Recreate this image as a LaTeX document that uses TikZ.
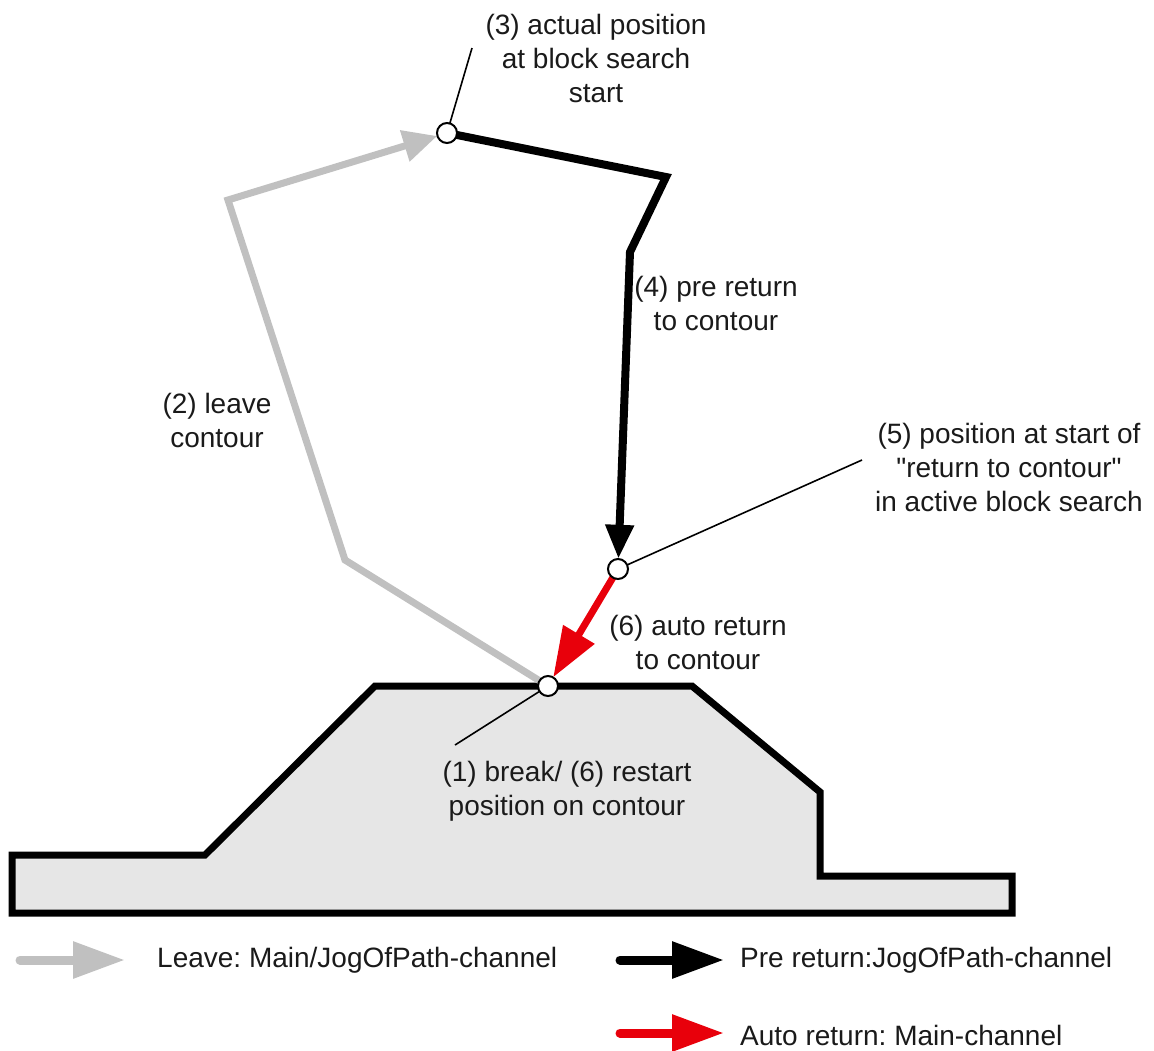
\documentclass[tikz,border=0pt]{standalone}
\usepackage{fontspec}
\setmainfont{Liberation Sans}
\usetikzlibrary{arrows.meta}
\definecolor{lgray}{HTML}{C0C0C0}
\definecolor{fillg}{HTML}{E6E6E6}
\definecolor{ared}{HTML}{E8000B}
\definecolor{txt}{HTML}{1A1A1A}
\newcommand{\sq}{\XeTeXglyph\XeTeXcharglyph"22\relax}
\tikzset{
  lbl/.style={align=center,font=\fontsize{28}{34}\selectfont,text=txt,inner sep=0pt},
  legtxt/.style={anchor=west,font=\fontsize{28}{34}\selectfont,text=txt,inner sep=0pt},
  ptmark/.style={circle,minimum size=20pt,inner sep=0pt},
  ptdraw/.style={circle,minimum size=20pt,inner sep=0pt,draw=black,line width=2pt,fill=white},
  leader/.style={draw=black,line width=1.6pt},
  grayarrow/.style={draw=lgray,line width=7pt,line join=miter,-{Triangle[length=34pt,width=31pt]}},
  blackarrow/.style={draw=black,line width=8pt,line join=miter,-{Triangle[length=34pt,width=27pt]}},
  redarrow/.style={draw=ared,line width=7pt,-{Triangle[length=50pt,width=35pt]}},
  contour/.style={draw=black,line width=7pt,fill=fillg,line join=miter},
  legarrow/.style={line width=9pt,line cap=round,-{Triangle[length=52pt,width=35pt]}},
}
\begin{document}
\frenchspacing
\begin{tikzpicture}[x=1pt,y=-1pt]
\useasboundingbox (0,0) rectangle (1154,1050);
% contour
\draw[contour] (12,855) -- (205,855) -- (375,686) -- (692,686) -- (820,792) -- (820,876) -- (1012,876) -- (1012,913) -- (12,913) -- cycle;
% points
\node[ptmark] (p3) at (447,133) {};
\node[ptmark] (p5) at (618,569) {};
\node[ptmark] (p1) at (548,686) {};
% paths
\draw[grayarrow] (p1.center) -- (345,560) -- (228,200) -- (p3);
\draw[blackarrow] (p3.center) -- (666,177) -- (630,252) -- (p5);
\draw[redarrow] (p5.center) -- (p1);
% leaders
\coordinate (l3) at (472,48);
\coordinate (l5) at (862,460);
\coordinate (l1) at (455,745);
\draw[leader] (p3) -- (l3);
\draw[leader] (p5) -- (l5);
\draw[leader] (p1) -- (l1);
% point circles
\node[ptdraw] at (p3) {};
\node[ptdraw] at (p5) {};
\node[ptdraw] at (p1) {};
% labels
\node[lbl] (t3) at (596,58) {(3) actual position\\at block search\\start};
\node[lbl] (t4) at (716,303) {(4) pre return\\to contour};
\node[lbl] (t2) at (217,420) {(2) leave\\contour};
\node[lbl] (t5) at (1009,467) {(5) position at start of\\\sq return to contour\sq\\in active block search};
\node[lbl] (t6) at (698,642) {(6) auto return\\to contour};
\node[lbl] (t1) at (567,791) {(1) break/ (6) restart\\position on contour};
% legend
\coordinate (g0) at (20,960); \coordinate (g1) at (125,960);
\coordinate (b0) at (620,960); \coordinate (b1) at (724,960);
\coordinate (r0) at (620,1033); \coordinate (r1) at (724,1033);
\draw[legarrow,draw=lgray,fill=lgray] (g0) -- (g1);
\draw[legarrow,draw=black,fill=black] (b0) -- (b1);
\draw[legarrow,draw=ared,fill=ared] (r0) -- (r1);
\node[legtxt] (lg) at (157,960) {Leave: Main/JogOfPath-channel};
\node[legtxt] (lb) at (740,960) {Pre return:JogOfPath-channel};
\node[legtxt] (lr) at (740,1035) {Auto return: Main-channel};
\end{tikzpicture}
\end{document}
